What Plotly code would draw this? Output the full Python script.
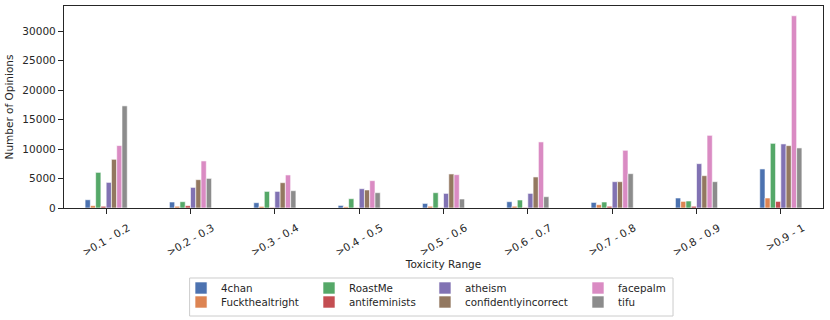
import plotly.graph_objects as go

ranges = [">0.1 - 0.2", ">0.2 - 0.3", ">0.3 - 0.4", ">0.4 - 0.5", ">0.5 - 0.6",
          ">0.6 - 0.7", ">0.7 - 0.8", ">0.8 - 0.9", ">0.9 - 1"]

chan4 = [1400, 1020, 900, 440, 780, 1070, 950, 1700, 6630]
fucktheal = [400, 300, 270, 200, 300, 300, 560, 1120, 1700]
roastme = [6050, 1070, 2820, 1580, 2600, 1360, 1020, 1190, 10980]
antifem = [300, 400, 100, 50, 50, 100, 300, 300, 1120]
atheism = [4350, 3500, 2820, 3280, 2480, 2480, 4470, 7530, 10880]
confident = [8270, 4810, 4300, 3060, 5780, 5270, 4470, 5490, 10590]
facepalm = [10600, 7990, 5610, 4640, 5660, 11220, 9800, 12340, 32640]
tifu = [17340, 5030, 2940, 2600, 1530, 1920, 5830, 4470, 10200]

names = ["4chan", "Fuckthealtright", "RoastMe", "antifeminists",
         "atheism", "confidentlyincorrect", "facepalm", "tifu"]
values = [chan4, fucktheal, roastme, antifem, atheism, confident, facepalm, tifu]
colors = ["#4C72B0", "#DD8452", "#55A868", "#C44E52",
          "#8172B3", "#937860", "#DA8BC3", "#8C8C8C"]

# legend layout: 4 columns x 2 rows, filled column by column (paper coords)
leg_cols = [0.1542, 0.3228, 0.4756, 0.6772]
leg_rows = [-0.3243, -0.3936]


def main():
    fig = go.Figure()
    axis_col = "#262626"
    font = dict(family="DejaVu Sans", size=10.5, color=axis_col)

    legends = {}
    for i, (name, vals, color) in enumerate(zip(names, values, colors)):
        key = "legend" if i == 0 else f"legend{i + 1}"
        fig.add_trace(go.Bar(x=ranges, y=vals, name=name, legend=key, showlegend=True,
                             marker=dict(color=color,
                                         line=dict(color="white", width=0.6))))
        legends[key] = dict(orientation="v", xanchor="left", yanchor="top",
                            x=leg_cols[i // 2], y=leg_rows[i % 2],
                            bgcolor="rgba(0,0,0,0)", borderwidth=0, visible=True,
                            font=dict(family="DejaVu Sans", size=10.3, color=axis_col))

    fig.update_layout(
        width=830, height=320,
        margin=dict(l=64, r=7, t=6, b=112, autoexpand=False),
        plot_bgcolor="white", paper_bgcolor="white",
        font=font, showlegend=True,
        barmode="group", bargap=0.5, bargroupgap=0,
        xaxis=dict(title=dict(text="Toxicity Range", font=font, standoff=0),
                   showline=True, mirror=True, linecolor=axis_col, linewidth=1.25,
                   ticks="outside", ticklen=5, tickcolor=axis_col, tickwidth=1.25,
                   tickangle=-30, ticklabelshift=22, ticklabelstandoff=4,
                   tickfont=font, showgrid=False, automargin=False),
        yaxis=dict(title=dict(text="Number of Opinions", font=font, standoff=6),
                   range=[0, 34300], tickvals=[0, 5000, 10000, 15000, 20000, 25000, 30000],
                   tickformat="d",
                   showline=True, mirror=True, linecolor=axis_col, linewidth=1.25,
                   ticks="outside", ticklen=5, tickcolor=axis_col, tickwidth=1.25,
                   tickfont=font, showgrid=False, zeroline=False, automargin=False),
        shapes=[dict(type="rect", xref="paper", yref="paper",
                     x0=0.1655, x1=0.8024, y0=-0.3465, y1=-0.5347,
                     line=dict(color="#cccccc", width=1))],
        **legends,
    )

    # browser default body margin would shift the figure by 8px
    fig.write_html("out.html", config={"displayModeBar": False},
                   post_script="document.body.style.margin='0';")


if __name__ == '__main__':
    main()
